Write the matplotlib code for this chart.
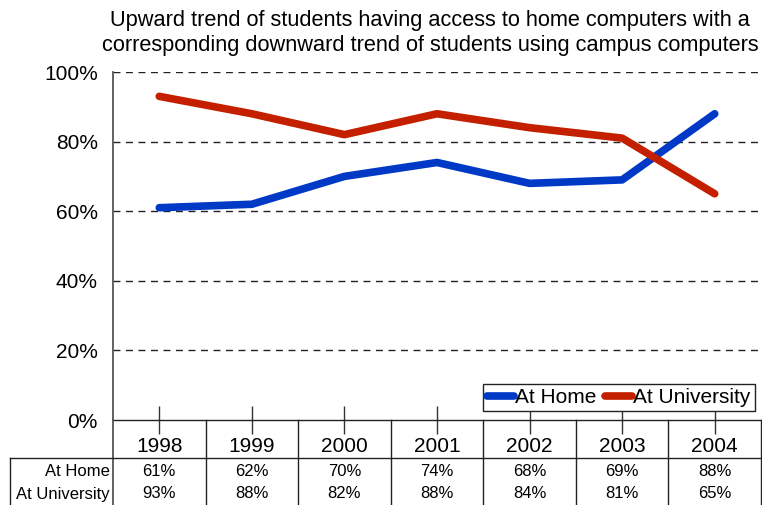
import matplotlib
matplotlib.use("Agg")
import matplotlib.pyplot as plt
from matplotlib.lines import Line2D

years = ["1998", "1999", "2000", "2001", "2002", "2003", "2004"]
at_home = [61, 62, 70, 74, 68, 69, 88]
at_university = [93, 88, 82, 88, 84, 81, 65]
series_names = ["At Home", "At University"]
y_ticks = [0, 20, 40, 60, 80, 100]
title_text = ("Upward trend of students having access to home computers with a\n"
              "corresponding downward trend of students using campus computers")

plt.rcParams['font.family'] = ['Liberation Sans', 'DejaVu Sans']

W, H = 762, 505
fig = plt.figure(figsize=(W / 100, H / 100), dpi=100)
left, right, top, bottom = 113, 761, 72, 420
ax = fig.add_axes([left / W, 1 - bottom / H, (right - left) / W, (bottom - top) / H])

blue = "#0039C6"
red = "#C42000"
x = list(range(len(years)))
ax.plot(x, at_home, color=blue, lw=5.5, solid_capstyle='round', label=series_names[0], zorder=3)
ax.plot(x, at_university, color=red, lw=5.5, solid_capstyle='round', label=series_names[1], zorder=3)

ax.set_xlim(-0.5, len(years) - 0.5)
ax.set_ylim(0, 100)
ax.set_yticks(y_ticks)
ax.set_yticklabels([f"{v}%" for v in y_ticks], fontsize=15)
ax.tick_params(axis='y', length=0, pad=11)
ax.set_xticks(x)
ax.set_xticklabels([])
ax.tick_params(axis='x', direction='inout', length=20, width=1, color='#333333')

for v in y_ticks[1:]:
    ax.axhline(v, color='#222222', lw=1, ls=(0, (5, 4)), zorder=1)

for s in ['top', 'right']:
    ax.spines[s].set_visible(False)
ax.spines['left'].set_color('#555555')
ax.spines['left'].set_linewidth(1.3)
ax.spines['bottom'].set_color('#222222')
ax.spines['bottom'].set_linewidth(1)

# Data table below axes
def fy(py):
    return 1 - py / H

def fx(px):
    return px / W

tbl_line = dict(color='#222222', lw=1, transform=fig.transFigure, clip_on=False)
fig.add_artist(Line2D([fx(left), fx(left)], [fy(bottom), fy(H)], color='#555555', lw=1.3, transform=fig.transFigure))
band = (right - left) / len(years)
for k in range(1, len(years) + 1):
    xb = left + k * band
    fig.add_artist(Line2D([fx(xb), fx(xb)], [fy(bottom), fy(H)], **tbl_line))
fig.add_artist(Line2D([fx(10), fx(right)], [fy(458), fy(458)], **tbl_line))
fig.add_artist(Line2D([fx(10), fx(10)], [fy(458), fy(H)], **tbl_line))

for i, yr in enumerate(years):
    cx = left + (i + 0.5) * band
    fig.text(fx(cx), fy(446), yr, ha='center', va='center', fontsize=15)
    fig.text(fx(cx), fy(471), f"{at_home[i]}%", ha='center', va='center', fontsize=12)
    fig.text(fx(cx), fy(494), f"{at_university[i]}%", ha='center', va='center', fontsize=12)
fig.text(fx(110), fy(471), series_names[0], ha='right', va='center', fontsize=12)
fig.text(fx(110), fy(494), series_names[1], ha='right', va='center', fontsize=12)

fig.text(fx(430), fy(33), title_text, ha='center', va='center', fontsize=15.7, linespacing=1.2)

leg = ax.legend(loc='lower right', bbox_to_anchor=(0.99, 0.025), ncol=2, fontsize=15,
                frameon=True, fancybox=False, edgecolor='#222222', framealpha=1,
                handlelength=1.3, handletextpad=0.05, columnspacing=0.4,
                borderpad=0.2, borderaxespad=0)
leg.get_frame().set_linewidth(1)

fig.savefig("out.png", dpi=100)
